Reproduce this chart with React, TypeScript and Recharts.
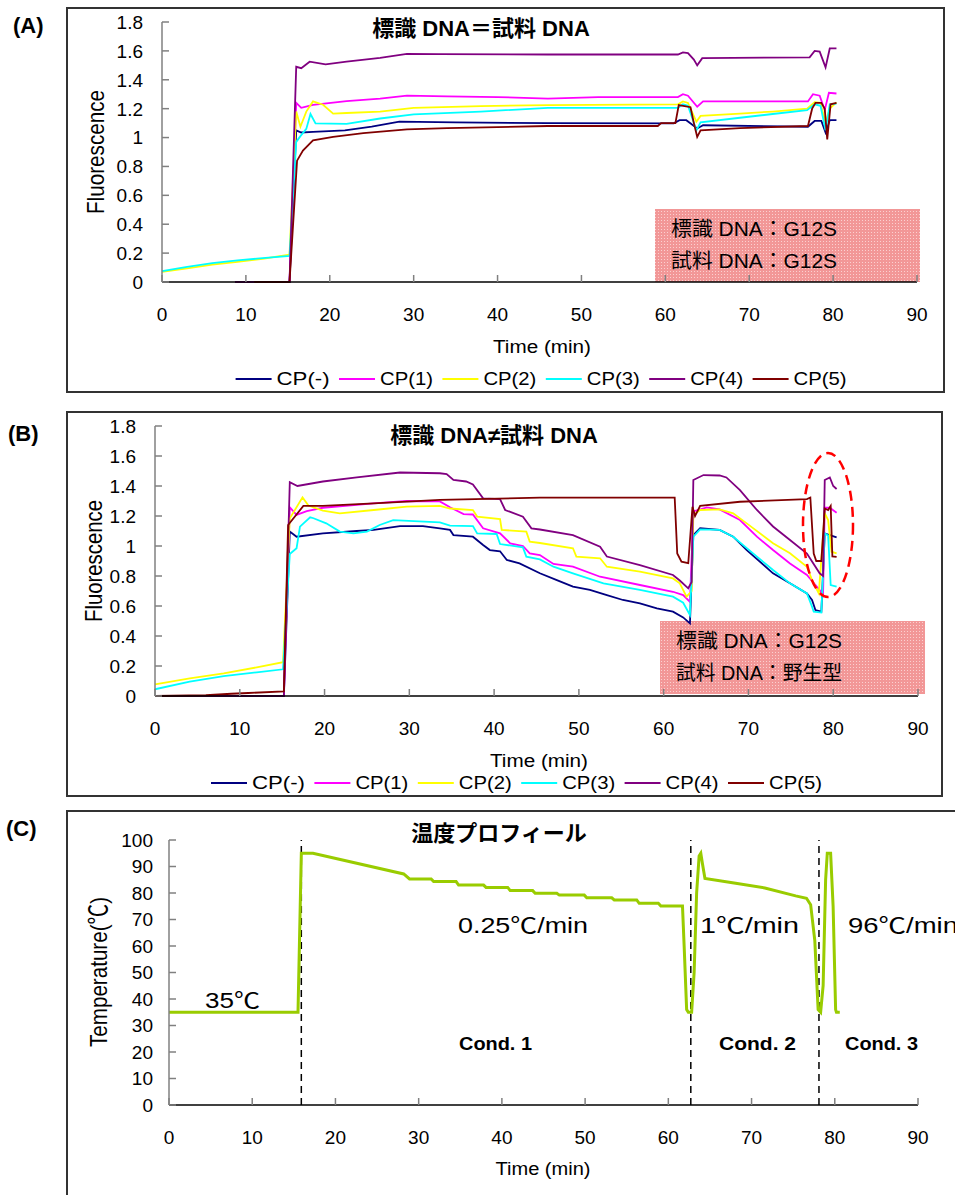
import { LineChart, Line, XAxis, YAxis, ReferenceLine } from 'recharts';

type Pt = [number, number];

const FONT = "'Liberation Sans', Arial, 'Noto Sans CJK JP', sans-serif";

const X_TICKS = [0, 10, 20, 30, 40, 50, 60, 70, 80, 90];
const FLUOR_TICKS = [0, 0.2, 0.4, 0.6, 0.8, 1, 1.2, 1.4, 1.6, 1.8];
const TEMP_TICKS = [0, 10, 20, 30, 40, 50, 60, 70, 80, 90, 100];

const SERIES_NAMES = ['CP(-)', 'CP(1)', 'CP(2)', 'CP(3)', 'CP(4)', 'CP(5)'];
const SERIES_COLORS = ['#000080', '#ff00ff', '#ffff00', '#00ffff', '#800080', '#800000'];

// (A) labelled DNA = sample DNA, [time min, fluorescence]
const A_NEG: Pt[] = [[8.7, 0], [15.2, 0], [16.0, 1.05], [16.6, 1.035], [18.0, 1.04], [21.8, 1.05], [25.0, 1.075], [28.3, 1.11], [35.0, 1.105], [46.0, 1.1], [61.0, 1.098], [61.7, 1.12], [62.5, 1.12], [63.8, 1.063], [64.5, 1.085], [77.0, 1.075], [77.8, 1.115], [78.6, 1.115], [79.1, 1.035], [79.6, 1.12], [80.4, 1.12]];
const A_CP1: Pt[] = [[8.7, 0], [15.2, 0], [16.0, 1.24], [16.6, 1.206], [18.0, 1.227], [22.0, 1.252], [26.0, 1.27], [29.2, 1.29], [34.0, 1.285], [40.0, 1.28], [46.0, 1.27], [52.0, 1.28], [61.5, 1.28], [62.1, 1.3], [62.7, 1.29], [63.8, 1.213], [64.5, 1.25], [77.0, 1.25], [77.6, 1.3], [78.4, 1.29], [79.0, 1.19], [79.5, 1.31], [80.4, 1.305]];
const A_CP2: Pt[] = [[0, 0.07], [3, 0.095], [6, 0.12], [9, 0.14], [12, 0.16], [15.2, 0.19], [16.0, 1.18], [16.5, 1.075], [17.2, 1.18], [18.0, 1.25], [19.2, 1.227], [20.4, 1.166], [22.0, 1.17], [26.0, 1.18], [30.0, 1.206], [38.0, 1.218], [46.0, 1.225], [61.5, 1.23], [62.1, 1.25], [62.7, 1.24], [63.7, 1.11], [64.2, 1.15], [68.9, 1.166], [72.8, 1.18], [76.9, 1.2], [77.8, 1.245], [78.5, 1.24], [79.1, 1.1], [79.6, 1.2], [80.4, 1.243]];
const A_CP3: Pt[] = [[0, 0.075], [3, 0.105], [6, 0.13], [9, 0.15], [12, 0.165], [15.2, 0.18], [16.0, 0.97], [16.5, 1.01], [17.2, 1.06], [17.7, 1.163], [18.3, 1.098], [22.0, 1.095], [26.0, 1.132], [30.0, 1.16], [38.0, 1.18], [46.0, 1.206], [61.5, 1.206], [62.1, 1.23], [62.7, 1.22], [63.7, 1.05], [64.2, 1.105], [68.9, 1.137], [72.8, 1.163], [76.9, 1.19], [77.8, 1.23], [78.5, 1.22], [79.1, 1.05], [79.6, 1.23], [80.4, 1.235]];
const A_CP4: Pt[] = [[8.7, 0], [15.2, 0], [16.0, 1.49], [16.6, 1.48], [17.6, 1.525], [19.5, 1.507], [22.0, 1.525], [26.0, 1.552], [29.2, 1.58], [33.0, 1.578], [46.0, 1.575], [61.5, 1.575], [62.1, 1.59], [62.7, 1.585], [63.4, 1.54], [63.8, 1.5], [64.4, 1.55], [77.2, 1.555], [77.8, 1.6], [78.4, 1.595], [79.1, 1.486], [79.6, 1.617], [80.4, 1.617]];
const A_CP5: Pt[] = [[11.0, 0], [15.2, 0], [16.1, 0.84], [16.8, 0.91], [18.0, 0.98], [20.4, 1.005], [24.0, 1.03], [29.2, 1.057], [34.0, 1.065], [46.0, 1.08], [59.1, 1.08], [59.5, 1.1], [61.2, 1.1], [61.6, 1.225], [63.0, 1.21], [63.4, 1.1], [63.8, 1.005], [64.2, 1.05], [68.9, 1.065], [77.0, 1.08], [77.5, 1.2], [77.9, 1.24], [78.6, 1.24], [79.0, 1.2], [79.3, 0.987], [79.7, 1.23], [80.4, 1.24]];

// (B) labelled DNA != sample DNA
const B_NEG: Pt[] = [[0, 0], [15.2, 0], [15.9, 1.096], [16.7, 1.062], [19.8, 1.084], [23.8, 1.1], [25.8, 1.107], [28.9, 1.133], [31.6, 1.133], [33.6, 1.118], [34.8, 1.107], [35.2, 1.073], [37.5, 1.062], [38.7, 1.007], [39.5, 0.973], [40.7, 0.965], [41.5, 0.907], [43.0, 0.884], [45.4, 0.818], [47.4, 0.773], [49.3, 0.729], [51.3, 0.707], [53.3, 0.673], [55.2, 0.64], [57.2, 0.618], [59.2, 0.584], [61.1, 0.562], [62.3, 0.524], [63.1, 0.484], [63.5, 1.073], [64.3, 1.118], [66.6, 1.107], [68.2, 1.062], [69.8, 0.973], [72.9, 0.818], [74.9, 0.751], [76.9, 0.684], [77.5, 0.64], [77.9, 0.573], [78.6, 0.562], [79.0, 1.084], [79.6, 1.073], [80.4, 1.058]];
const B_CP1: Pt[] = [[0, 0], [15.2, 0], [15.9, 1.258], [16.7, 1.207], [17.9, 1.233], [19.8, 1.255], [25.8, 1.284], [29.7, 1.3], [33.6, 1.297], [34.8, 1.258], [36.4, 1.213], [37.5, 1.21], [38.7, 1.118], [40.7, 1.084], [41.9, 1.018], [43.4, 1.0], [44.2, 0.951], [45.4, 0.94], [47.0, 0.88], [49.3, 0.862], [52.5, 0.795], [57.2, 0.74], [61.1, 0.695], [62.3, 0.673], [63.1, 0.628], [63.5, 1.23], [65.1, 1.258], [66.6, 1.244], [69.0, 1.173], [71.0, 1.062], [72.9, 0.973], [74.9, 0.884], [76.9, 0.807], [78.4, 0.707], [78.8, 0.673], [79.0, 1.255], [79.6, 1.255], [80.4, 1.222]];
const B_CP2: Pt[] = [[0, 0.078], [4.1, 0.118], [8.1, 0.151], [12.0, 0.191], [15.1, 0.225], [15.9, 1.184], [17.4, 1.324], [18.1, 1.27], [19.8, 1.236], [21.8, 1.218], [25.8, 1.24], [29.7, 1.262], [33.6, 1.267], [34.8, 1.25], [37.5, 1.24], [38.0, 1.196], [40.7, 1.18], [40.9, 1.107], [43.8, 1.096], [44.2, 1.029], [45.4, 1.02], [49.3, 0.985], [49.7, 0.929], [52.5, 0.918], [53.3, 0.862], [57.2, 0.829], [61.1, 0.784], [61.9, 0.751], [62.7, 0.662], [63.3, 0.7], [63.5, 1.207], [64.3, 1.24], [66.6, 1.244], [68.2, 1.218], [69.8, 1.151], [72.9, 1.018], [74.9, 0.951], [76.9, 0.862], [77.5, 0.773], [78.3, 0.684], [79.0, 1.218], [79.4, 1.173], [79.8, 0.962], [80.4, 0.951]];
const B_CP3: Pt[] = [[0, 0.045], [4.1, 0.096], [8.1, 0.133], [12.0, 0.158], [15.1, 0.178], [15.9, 0.947], [16.7, 0.985], [17.1, 1.129], [18.3, 1.191], [18.7, 1.185], [20.2, 1.151], [21.8, 1.096], [23.4, 1.084], [25.0, 1.096], [26.5, 1.14], [28.1, 1.173], [33.6, 1.158], [34.8, 1.136], [37.5, 1.133], [38.0, 1.084], [40.3, 1.08], [40.7, 1.013], [43.4, 0.991], [43.8, 0.929], [45.4, 0.911], [47.0, 0.862], [49.3, 0.818], [52.9, 0.751], [57.2, 0.707], [61.1, 0.662], [62.3, 0.622], [63.1, 0.54], [63.5, 1.062], [64.3, 1.111], [66.6, 1.107], [68.2, 1.062], [71.0, 0.929], [72.9, 0.84], [74.9, 0.751], [76.9, 0.684], [77.5, 0.596], [77.7, 0.562], [78.6, 0.556], [79.0, 1.084], [79.4, 1.07], [79.7, 0.74], [80.4, 0.729]];
const B_CP4: Pt[] = [[0, 0], [15.2, 0], [15.9, 1.425], [16.8, 1.4], [19.8, 1.43], [23.8, 1.457], [28.9, 1.49], [33.6, 1.485], [34.4, 1.48], [35.2, 1.44], [36.7, 1.43], [37.5, 1.41], [38.7, 1.318], [40.7, 1.313], [41.3, 1.24], [43.4, 1.195], [44.4, 1.118], [45.4, 1.11], [49.3, 1.073], [52.5, 0.995], [53.3, 0.93], [57.2, 0.873], [61.1, 0.807], [61.9, 0.77], [62.9, 0.718], [63.3, 0.76], [63.5, 1.44], [64.7, 1.473], [66.6, 1.47], [67.4, 1.457], [69.0, 1.373], [71.0, 1.24], [72.9, 1.13], [74.9, 1.04], [76.9, 0.95], [78.4, 0.818], [78.8, 0.8], [79.0, 1.44], [79.6, 1.457], [80.0, 1.4], [80.4, 1.38]];
const B_CP5: Pt[] = [[0, 0], [6.0, 0.005], [9.0, 0.015], [11.0, 0.02], [15.2, 0.03], [15.7, 1.14], [17.5, 1.267], [19.8, 1.267], [25.8, 1.284], [33.6, 1.307], [45.4, 1.322], [61.3, 1.323], [61.6, 0.95], [62.1, 0.895], [62.9, 0.885], [63.4, 1.262], [63.7, 1.2], [64.3, 1.267], [69.0, 1.295], [76.9, 1.313], [77.3, 1.323], [77.7, 0.95], [78.0, 0.9], [78.6, 0.9], [79.0, 1.25], [79.4, 1.24], [79.7, 1.267], [79.9, 0.93], [80.4, 0.927]];

// (C) temperature profile, [time min, °C]
const C_TEMP: Pt[] = [[0, 35], [15.5, 35], [15.9, 95], [17.3, 95], [28.2, 87.2], [28.9, 85.3], [31.5, 85.3], [31.8, 84.3], [34.5, 84.3], [34.8, 83], [37.8, 83], [38.1, 82.1], [40.7, 82.1], [41.0, 80.9], [43.7, 80.9], [44.0, 79.9], [46.6, 79.9], [46.9, 79.2], [49.9, 79.2], [50.2, 78.2], [53.2, 78.2], [53.5, 77.4], [56.2, 77.4], [56.5, 76.1], [58.8, 76.1], [59.1, 75.1], [61.7, 75.1], [61.9, 60], [62.2, 36], [62.4, 35], [62.8, 35], [63.1, 50], [63.4, 80], [63.7, 94], [63.9, 95], [64.1, 91], [64.4, 85.5], [67.9, 83.8], [71.6, 81.9], [75.3, 78.9], [76.6, 78], [77.1, 75.6], [77.6, 62], [78.0, 36], [78.3, 35], [78.6, 45], [78.9, 85], [79.1, 95], [79.5, 95], [79.8, 75], [80.1, 36], [80.2, 35], [80.6, 35]];
const C_STAGES = [15.9, 62.7, 78.1];

const A_SERIES = [A_NEG, A_CP1, A_CP2, A_CP3, A_CP4, A_CP5];
const B_SERIES = [B_NEG, B_CP1, B_CP2, B_CP3, B_CP4, B_CP5];

const toPts = (arr: Pt[]) => arr.map(([t, v]) => ({ t, v }));

const YTick = ({ x, y, payload, gap }: any) => (
  <g>
    <line x1={x} x2={x + 7} y1={y} y2={y} stroke="#808080" strokeWidth={1.5} />
    <text x={x - gap} y={y} dy="0.36em" textAnchor="end" fontSize={19} fontFamily={FONT} fill="#000">
      {payload.value}
    </text>
  </g>
);

const XTick = ({ x, y, payload }: any) => (
  <g>
    <line x1={x} x2={x} y1={y} y2={y - 7} stroke="#808080" strokeWidth={1.5} />
    <text x={x} y={y + 26} dy="0.71em" textAnchor="middle" fontSize={19} fontFamily={FONT} fill="#000">
      {payload.value}
    </text>
  </g>
);

interface FluorProps {
  top: number;
  series: Pt[][];
  margin: { top: number; right: number; bottom: number; left: number };
  yWidth: number;
}

function FluorChart({ top, series, margin, yWidth }: FluorProps) {
  return (
    <div style={{ position: 'absolute', left: 0, top }}>
      <LineChart width={955} height={400} margin={margin}>
        <XAxis
          type="number"
          dataKey="t"
          domain={[0, 90]}
          ticks={X_TICKS}
          height={40}
          tickSize={0}
          tickMargin={0}
          tickLine={false}
          axisLine={{ stroke: '#000', strokeWidth: 1.5 }}
          tick={(p: any) => <XTick {...p} />}
        />
        <YAxis
          type="number"
          domain={[0, 1.8]}
          ticks={FLUOR_TICKS}
          width={yWidth}
          tickSize={0}
          tickMargin={0}
          tickLine={false}
          axisLine={{ stroke: '#808080', strokeWidth: 1.5 }}
          tick={(p: any) => <YTick {...p} gap={19} />}
        />
        {series.map((s, i) => (
          <Line
            key={SERIES_NAMES[i]}
            data={toPts(s)}
            dataKey="v"
            name={SERIES_NAMES[i]}
            type="linear"
            stroke={SERIES_COLORS[i]}
            strokeWidth={1.8}
            dot={false}
            isAnimationActive={false}
          />
        ))}
      </LineChart>
    </div>
  );
}

function TempChart() {
  return (
    <div style={{ position: 'absolute', left: 0, top: 800 }}>
      <LineChart width={955} height={395} margin={{ top: 40, right: 37, bottom: 50, left: 0 }}>
        <XAxis
          type="number"
          dataKey="t"
          domain={[0, 90]}
          ticks={X_TICKS}
          height={40}
          tickSize={0}
          tickMargin={0}
          tickLine={false}
          axisLine={{ stroke: '#000', strokeWidth: 1.5 }}
          tick={(p: any) => <XTick {...p} />}
        />
        <YAxis
          type="number"
          domain={[0, 100]}
          ticks={TEMP_TICKS}
          width={169}
          tickSize={0}
          tickMargin={0}
          tickLine={false}
          axisLine={{ stroke: '#808080', strokeWidth: 1.5 }}
          tick={(p: any) => <YTick {...p} gap={16} />}
        />
        {C_STAGES.map((t) => (
          <ReferenceLine key={t} x={t} stroke="#000" strokeWidth={1.5} strokeDasharray="7 5" />
        ))}
        <Line
          data={toPts(C_TEMP)}
          dataKey="v"
          name="Temperature"
          type="linear"
          stroke="#99cc00"
          strokeWidth={3}
          dot={false}
          isAnimationActive={false}
        />
      </LineChart>
    </div>
  );
}

function Legend({ x0, y }: { x0: number; y: number }) {
  return (
    <g>
      {SERIES_NAMES.map((n, i) => {
        const x = x0 + i * 103.4;
        return (
          <g key={n}>
            <line x1={x} x2={x + 36} y1={y} y2={y} stroke={SERIES_COLORS[i]} strokeWidth={2} />
            <text x={x + 41} y={y} dy="0.36em" fontSize={18} textLength={53} lengthAdjust="spacingAndGlyphs">
              {n}
            </text>
          </g>
        );
      })}
    </g>
  );
}

function InsetBox({ x, y, w, h, lines }: { x: number; y: number; w: number; h: number; lines: string[] }) {
  return (
    <g>
      <rect x={x} y={y} width={w} height={h} fill="#f29797" />
      <rect x={x} y={y} width={w} height={h} fill="url(#pinkDots)" />
      {lines.map((l, i) => (
        <text key={l} x={x + 16} y={y + 20 + i * 32} dy="0.36em" fontSize={20} textLength={166} lengthAdjust="spacingAndGlyphs">
          {l}
        </text>
      ))}
    </g>
  );
}

function RotLabel({ x, y, text, len }: { x: number; y: number; text: string; len: number }) {
  return (
    <text
      transform={`translate(${x},${y}) rotate(-90) scale(1,1.45)`}
      textAnchor="middle"
      dy="0.36em"
      fontSize={17}
      textLength={len}
      lengthAdjust="spacingAndGlyphs"
    >
      {text}
    </text>
  );
}

export default function App() {
  return (
    <div
      style={{
        position: 'absolute',
        left: 0,
        top: 0,
        width: 955,
        height: 1195,
        background: '#fff',
        overflow: 'hidden',
        fontFamily: FONT,
      }}
    >
      {/* panel frames */}
      <div style={{ position: 'absolute', left: 66, top: 7, width: 875, height: 382, border: '2px solid #333' }} />
      <div style={{ position: 'absolute', left: 66, top: 411, width: 873, height: 382, border: '2px solid #333' }} />
      <div style={{ position: 'absolute', left: 66, top: 810, width: 940, height: 420, border: '2px solid #333' }} />

      {/* inset notes sit behind the plots */}
      <svg width={955} height={1195} style={{ position: 'absolute', left: 0, top: 0 }} fontFamily={FONT}>
        <defs>
          <pattern id="pinkDots" width={3} height={3} patternUnits="userSpaceOnUse">
            <rect x={1} y={1} width={1} height={1} fill="#fbd0d0" />
          </pattern>
        </defs>
        <InsetBox x={655} y={209} w={265} h={73} lines={['標識 DNA：G12S', '試料 DNA：G12S']} />
        <InsetBox x={660} y={621} w={265} h={73} lines={['標識 DNA：G12S', '試料 DNA：野生型']} />
      </svg>

      <FluorChart top={0} series={A_SERIES} margin={{ top: 22, right: 38, bottom: 78, left: 0 }} yWidth={162} />
      <FluorChart top={400} series={B_SERIES} margin={{ top: 26, right: 37, bottom: 64, left: 0 }} yWidth={155} />
      <TempChart />

      <svg
        width={955}
        height={1195}
        style={{ position: 'absolute', left: 0, top: 0, pointerEvents: 'none' }}
        fontFamily={FONT}
        fill="#000"
      >
        <text x={13} y={25} dy="0.36em" fontSize={22} fontWeight="bold">(A)</text>
        <text x={8} y={433} dy="0.36em" fontSize={22} fontWeight="bold">(B)</text>
        <text x={6} y={828} dy="0.36em" fontSize={22} fontWeight="bold">(C)</text>

        <text x={481} y={28} dy="0.36em" fontSize={22} fontWeight="bold" textAnchor="middle">標識 DNA＝試料 DNA</text>
        <text x={494} y={435} dy="0.36em" fontSize={22} fontWeight="bold" textAnchor="middle">標識 DNA≠試料 DNA</text>
        <text x={499} y={833} dy="0.36em" fontSize={22} fontWeight="bold" textAnchor="middle">温度プロフィール</text>

        <RotLabel x={95} y={152} text="Fluorescence" len={124} />
        <RotLabel x={93} y={561} text="Fluorescence" len={122} />
        <RotLabel x={98} y={972} text="Temperature(℃)" len={150} />

        <text x={542} y={347} dy="0.36em" fontSize={18} textAnchor="middle" textLength={98} lengthAdjust="spacingAndGlyphs">Time (min)</text>
        <text x={539} y={761} dy="0.36em" fontSize={18} textAnchor="middle" textLength={98} lengthAdjust="spacingAndGlyphs">Time (min)</text>
        <text x={543} y={1169} dy="0.36em" fontSize={18} textAnchor="middle" textLength={95} lengthAdjust="spacingAndGlyphs">Time (min)</text>

        <Legend x0={235.6} y={379} />
        <Legend x0={211} y={783} />

        <ellipse cx={828} cy={525} rx={25} ry={72} fill="none" stroke="#ff0000" strokeWidth={2.5} strokeDasharray="10 6" />

        <text x={205} y={1000} dy="0.36em" fontSize={22} textLength={55} lengthAdjust="spacingAndGlyphs">35℃</text>
        <text x={458} y={925} dy="0.36em" fontSize={22} textLength={130} lengthAdjust="spacingAndGlyphs">0.25℃/min</text>
        <text x={700} y={925} dy="0.36em" fontSize={22} textLength={99} lengthAdjust="spacingAndGlyphs">1℃/min</text>
        <text x={848} y={925} dy="0.36em" fontSize={22} textLength={110} lengthAdjust="spacingAndGlyphs">96℃/min</text>
        <text x={459} y={1043} dy="0.36em" fontSize={19} fontWeight="bold" textLength={73} lengthAdjust="spacingAndGlyphs">Cond. 1</text>
        <text x={719} y={1043} dy="0.36em" fontSize={19} fontWeight="bold" textLength={77} lengthAdjust="spacingAndGlyphs">Cond. 2</text>
        <text x={845} y={1043} dy="0.36em" fontSize={19} fontWeight="bold" textLength={73} lengthAdjust="spacingAndGlyphs">Cond. 3</text>
      </svg>
    </div>
  );
}
